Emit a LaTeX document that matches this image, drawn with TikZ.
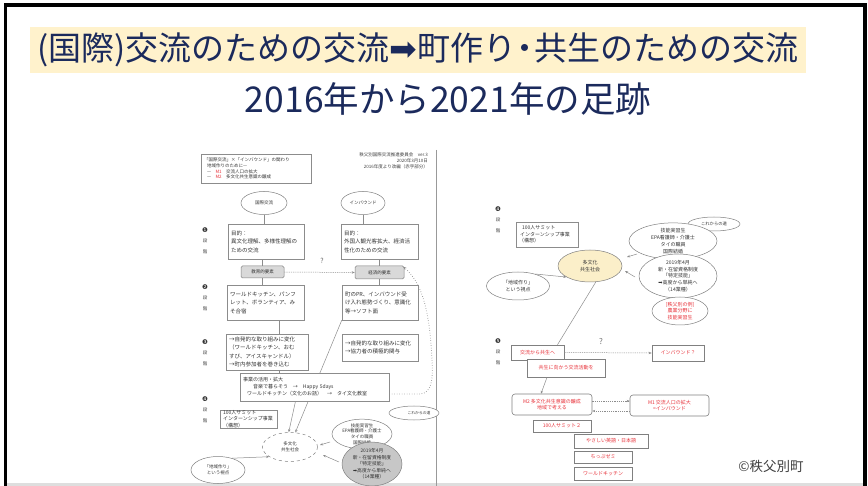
\documentclass[tikz,border=0pt]{standalone}
\usepackage{fontspec}
\newfontfamily\cjk{Noto Sans CJK JP}
\newfontfamily\dvs{DejaVu Sans}
\usetikzlibrary{shapes.geometric,arrows.meta,calc}
\definecolor{navy}{HTML}{1B2A5C}
\definecolor{titlebg}{HTML}{FFF2CC}
\definecolor{redt}{HTML}{E8323A}
\definecolor{yel}{HTML}{FBEFC9}
\newcommand\jA{\cjk\fontsize{5.5}{8.5}\selectfont}
\newcommand\jB{\cjk\fontsize{4.5}{5.6}\selectfont}
\newcommand\jC{\cjk\fontsize{5}{6.5}\selectfont}
\newcommand\jD{\cjk\fontsize{5}{7}\selectfont}
\tikzset{
 lb/.style={draw=black!45, line width=0.5pt, fill=white, inner sep=0pt, inner xsep=3pt, align=left, text=black!80, font=\jA},
 gb/.style={draw=black!50, line width=0.5pt, fill=black!15, rounded corners=1.5pt, inner sep=0pt, text=black!80, font=\jB},
 le/.style={ellipse, draw=black!50, line width=0.5pt, fill=white, inner sep=0pt, align=center, text=black!80, font=\jC},
 rb/.style={draw=black!50, line width=0.6pt, fill=white, inner sep=0pt, align=center, text=redt, font=\jC},
 stp/.style={text=black!75, font=\jB, inner sep=0pt},
 stpn/.style={text=black!80, font=\dvs\fontsize{6.5}{6.5}\selectfont, inner sep=0pt},
 ln/.style={draw=black!45, line width=0.5pt},
 ar/.style={ln, -{Stealth[length=3pt,width=2.4pt]}},
 dar/.style={ar, dash pattern=on 1.2pt off 1pt},
}
\begin{document}
\begin{tikzpicture}[x=1pt,y=-1pt]
\useasboundingbox (0,0) rectangle (868,486);
\fill[white] (0,0) rectangle (868,486);
% slide frame
\fill[black] (4,3) rectangle (7,486);
\fill[black] (4,3) rectangle (867,7);
\fill[black] (863,3) rectangle (867,486);
\fill[black!13] (7,483) rectangle (863,486);
% title
\node[fill=titlebg, minimum width=776pt, minimum height=46pt, inner sep=0pt, anchor=north west] (tbox) at (30,27) {};
\node[font=\cjk\fontsize{33}{34}\selectfont, text=navy, inner sep=0pt] (title) at (418,50) {(国際)交流のための交流{\dvs ➡}町作り\hspace{-0.22em}・\hspace{-0.22em}共生のための交流};
\node[font=\cjk\fontsize{35.5}{36}\selectfont, text=navy, inner sep=0pt] (sub) at (448,99) {2016年から2021年の足跡};

% ================= left document =================
\draw[black!40, line width=0.6pt] (436,150) -- (436,486);
\node[lb, font=\jB, minimum width=110pt, minimum height=29pt, text width=104pt] (hdr) at (256,168.5)
 {「国際交流」×「インバウンド」の関わり\\\hspace*{3pt}地域作りのために—\\\hspace*{3pt}—\quad{\color{redt}M1}\quad 交流人口の拡大\\\hspace*{3pt}—\quad{\color{redt}M2}\quad 多文化共生意識の醸成};
\node[stp, align=right, anchor=north east] (ver) at (428,153) {秩父別国際交流推進委員会\quad ver.3\\2020年3月10日\\2016年度より改編（赤字部分）};

\node[le, font=\jB, minimum width=46pt, minimum height=23pt] (kk) at (264,203) {国際交流};
\node[le, font=\jB, minimum width=44pt, minimum height=23pt] (ib) at (363,203) {インバウンド};

% long diagonal drawn first (behind boxes)
\node[lb, minimum width=76pt, minimum height=35pt, text width=70pt] (pr) at (380,302.5) {町のPR、インバウンド受\\け入れ態勢づくり、意識化\\等→ソフト面};
\node[le, dashed, font=\jB, minimum width=55pt, minimum height=29pt] (tab) at (290,447) {多文化\\共生社会};
\draw[ar] (pr.south west) -- (tab.70);

\node[lb, minimum width=76pt, minimum height=35pt, text width=70pt] (mok1) at (266,241.5) {目的：\\異文化理解、多様性理解の\\ための交流};
\node[lb, minimum width=77pt, minimum height=35pt, text width=71pt] (mok2) at (379.5,241.5) {目的：\\外国人観光客拡大、経済活\\性化のための交流};
\draw[ln] (kk.south) -- (kk.south |- mok1.north);
\draw[ln] (ib.south) -- (ib.south |- mok2.north);

\node[gb, minimum width=43pt, minimum height=12pt] (kyo) at (262.5,272) {教育的要素};
\node[gb, minimum width=49pt, minimum height=13pt] (kei) at (379.5,272.5) {経済的要素};
\draw[ln] (kyo.north) -- (kyo.north |- mok1.south);
\draw[ln] (kei.north) -- (kei.north |- mok2.south);
\draw[dar] (kyo.east) -- (kei.west);
\node[text=black!60, font=\cjk\fontsize{7}{7}\selectfont, inner sep=0pt] (q1) at (322,261) {?};

\node[lb, minimum width=77pt, minimum height=35pt, text width=71pt] (wk) at (265.5,302.5) {ワールドキッチン、パンフ\\レット、ボランティア、み\\そ合宿};
\draw[ln] (kyo.south) -- (kyo.south |- wk.north);
\draw[ln] (kei.south) -- (kei.south |- pr.north);

\node[lb, minimum width=82pt, minimum height=36pt, text width=76pt] (ji1) at (267,352) {→自発的な取り組みに変化\\（ワールドキッチン、おむ\\すび、アイスキャンドル）\\→町内参加者を巻き込む};
\node[lb, minimum width=76pt, minimum height=27pt, text width=70pt] (ji2) at (380,347.5) {→自発的な取り組みに変化\\→協力者の積極的関与};
\draw[ln] ([xshift=13.5pt]wk.south) -- ([xshift=12pt]ji1.north);

\node[lb, font=\jD, minimum width=149pt, minimum height=28pt, text width=143pt] (jg) at (314.5,387) {事業の活用・拡大\\\hspace*{10pt}音楽で暮らそう\quad→\quad Happy 5days\\\hspace*{4pt}ワールドキッチン（文化のお話）\quad→\quad タイ文化教室};
\draw[ln] ([xshift=12pt]ji1.south) -- ([xshift=-35.5pt]jg.north);
\draw[ar] ([xshift=-19pt]jg.south) -- (tab.95);
\draw[ln, dotted, line width=0.9pt, -{Stealth[length=3pt,width=2.4pt]}] ([yshift=-7pt]jg.east) -- (420,394) .. controls (432,393) and (433,380) .. (432,360) .. controls (430,320) and (425,285) .. ([xshift=-1pt,yshift=-1pt]kei.north east);

\node[lb, font=\jC, minimum width=57pt, minimum height=18pt, text width=51pt] (h100) at (248.5,419) {100人サミット\\インターンシップ事業\\（構想）};

\node[le, font=\jB, minimum width=54pt, minimum height=27pt] (chi) at (218,470) {「地域作り」\\という視点};
\draw[ar] (chi.40) -- (tab.205);
\node[le, font=\cjk\fontsize{3.8}{4}\selectfont, minimum width=50pt, minimum height=14pt] (kore) at (414,413) {\hspace*{10pt}これからの道};
\node[le, font=\jB, minimum width=60pt, minimum height=25pt] (gin) at (362,434) {技能実習生\\EPA看護師・介護士\\タイの職員\\国際結婚};
\node[le, fill=black!22, font=\cjk\fontsize{4.8}{6.6}\selectfont, minimum width=60pt, minimum height=38pt] (t19) at (372,464) {2019年4月\\新・在留資格制度\\「特定技能」\\{\dvs ➡}高度から単純へ\\（14業種）};
\coordinate (ga) at (330,442);
\coordinate (gb) at (320,445);
\draw[ar] (ga) -- (gb);
\coordinate (ta) at (339,462);
\coordinate (tb) at (323,455);
\draw[ar] (ta) -- (tb);

\node[stpn] (s1) at (205,230) {❶}; \node[stp] (s1b) at (205,241) {段}; \node[stp] (s1c) at (205,252) {階};
\node[stpn] (s2) at (205,287) {❷}; \node[stp] (s2b) at (205,298) {段}; \node[stp] (s2c) at (205,309) {階};
\node[stpn] (s3) at (205,342) {❸}; \node[stp] (s3b) at (205,353) {段}; \node[stp] (s3c) at (205,364) {階};
\node[stpn] (s4) at (205,399) {❹}; \node[stp] (s4b) at (205,410) {段}; \node[stp] (s4c) at (205,421) {階};

% ================= right document =================
\node[stpn] (r4) at (498,209) {❹}; \node[stp] (r4b) at (498,220) {段}; \node[stp] (r4c) at (498,231) {階};
\node[stpn] (r5) at (498,341) {❺}; \node[stp] (r5b) at (498,352) {段}; \node[stp] (r5c) at (498,363) {階};

\node[lb, font=\jC, minimum width=62pt, minimum height=25pt, text width=56pt] (r100) at (547,234.5) {\hspace*{3pt}100人サミット\\\hspace*{1pt}インターンシップ事業\\（構想）};
\node[le, font=\cjk\fontsize{4.3}{5}\selectfont, minimum width=52pt, minimum height=14pt] (rkore) at (714,224) {これからの道};
\node[le, font=\jD, minimum width=88pt, minimum height=32pt] (rgin) at (673,241) {技能実習生\\EPA看護師・介護士\\タイの職員\\国際結婚};
\node[le, fill=yel, font=\jC, minimum width=64pt, minimum height=32pt] (rtab) at (590,266) {多文化\\共生社会};
\node[le, font=\jC, minimum width=63pt, minimum height=28pt] (rchi) at (518,286) {「地域作り」\\という視点};
\node[le, font=\cjk\fontsize{5}{6.6}\selectfont, minimum width=78pt, minimum height=37pt] (r19) at (678,276) {2019年4月\\新・在留資格制度\\「特定技能」\\{\dvs ➡}高度から単純へ\\（14業種）};
\node[le, text=redt, font=\jC, minimum width=56pt, minimum height=28pt] (rex) at (680,311) {[秩父別の例]\\農業分野に\\技能実習生};
\draw[ar] (rchi.35) -- (rtab.205);
\coordinate (rga) at (637,254);
\coordinate (rgb) at (627,257);
\draw[ar] (rga) -- (rgb);
\coordinate (rta) at (635,277);
\coordinate (rtb) at (625,271);
\draw[ar] (rta) -- (rtb);

\node[rb, minimum width=53pt, minimum height=15pt] (rk) at (537.5,352.5) {交流から共生へ};
\node[rb, minimum width=52pt, minimum height=16pt] (rib) at (678,353) {インバウンド？};
\node[rb, minimum width=78pt, minimum height=18pt] (rks) at (566,368) {共生に向かう交流活動を};
\draw[ln] (rtab.-70) -- ([xshift=20pt]rk.north);
\draw[dar] (rk.east) -- (rib.west);
\node[text=black!55, font=\cjk\fontsize{8}{8}\selectfont, inner sep=0pt] (q2) at (601,342) {?};

\node[rb, rounded corners=3pt, minimum width=80pt, minimum height=21pt] (rm2) at (552,404.5) {M2\ 多文化共生意識の醸成\\地域で考える};
\node[rb, rounded corners=3pt, minimum width=79pt, minimum height=21pt] (rm1) at (669.5,405.5) {M1\ 交流人口の拡大\\=インバウンド};
\draw[ar] ([xshift=-19pt]rks.south) -- ([xshift=-11pt]rm2.north);
\draw[dar] ([yshift=3.5pt]rm2.east) -- ([yshift=4.5pt]rm1.west);
\draw[dar] ([yshift=-5.5pt]rm1.west) -- ([yshift=-6.5pt]rm2.east);

\node[rb, minimum width=58pt, minimum height=12pt] (r1002) at (562,426) {100人サミット２};
\node[rb, minimum width=74pt, minimum height=14pt] (ryas) at (611,441) {やさしい英語・日本語};
\node[rb, minimum width=58pt, minimum height=12pt] (rchip) at (603,457) {ちっぷゼミ};
\node[rb, minimum width=58pt, minimum height=13pt] (rwk) at (603,473.5) {ワールドキッチン};

\node[text=black!75, font=\cjk\fontsize{13.5}{14}\selectfont, inner sep=0pt] (copy) at (771,466) {©秩父別町};
\end{tikzpicture}
\end{document}
